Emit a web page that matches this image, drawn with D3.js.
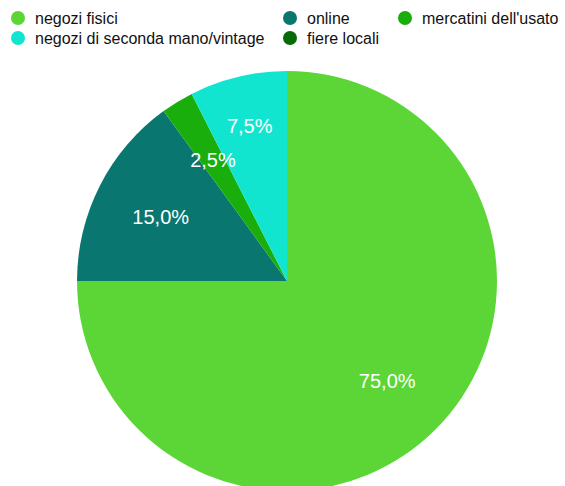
<!DOCTYPE html>
<html>
<head>
<meta charset="utf-8">
<script src="https://cdn.jsdelivr.net/npm/d3@7"></script>
<style>
  html, body { margin: 0; padding: 0; background: #fff; }
  svg { display: block; font-family: "Liberation Sans", Arial, Helvetica, sans-serif; }
</style>
</head>
<body>
<svg id="chart" width="565" height="486"></svg>
<script>
// Where purchases are made (share of answers)
const categories = ["negozi fisici", "online", "mercatini dell'usato", "negozi di seconda mano/vintage", "fiere locali"];
const values = [75.0, 15.0, 2.5, 7.5, 0.0];
const colors = ["#5cd636", "#0a7670", "#19ae0c", "#12e5cf", "#066b06"];

const svg = d3.select("#chart");
const cx = 287, cy = 281, R = 210;

const data = categories.map((c, i) => ({ cat: c, value: values[i], color: colors[i] }));

const pie = d3.pie().sort(null).value(d => d.value).startAngle(0).endAngle(2 * Math.PI);
const arcs = pie(data);
const arc = d3.arc().innerRadius(0).outerRadius(R);

const g = svg.append("g").attr("transform", `translate(${cx},${cy})`);
g.selectAll("path.slice")
  .data(arcs)
  .join("path")
  .attr("class", "slice")
  .attr("d", arc)
  .attr("fill", d => d.data.color);

// Percentage labels, placed along each slice's mid-angle; labels that
// would crowd the previous one are pushed outwards.
const fmt = v => d3.format(".1f")(v).replace(".", ",") + "%";
const placed = [];
arcs.filter(a => a.data.value > 0).forEach(a => {
  const mid = (a.startAngle + a.endAngle) / 2;
  let rr = R * 0.675;
  const pos = r => [Math.sin(mid) * r, -Math.cos(mid) * r];
  const clash = p => placed.some(q => Math.abs(q[0] - p[0]) < 52 && Math.abs(q[1] - p[1]) < 34);
  let p = pos(rr);
  while (clash(p) && rr < R * 0.9) { rr += 2; p = pos(rr); }
  placed.push(p);
  g.append("text")
    .attr("x", p[0])
    .attr("y", p[1])
    .attr("text-anchor", "middle")
    .attr("dominant-baseline", "central")
    .attr("fill", "#ffffff")
    .attr("font-size", 20)
    .text(fmt(a.data.value));
});

// Legend: three columns, wrapping onto a second row
const colX = [18, 290, 405];
const rowY = [18, 38];
const slots = [[0, 0], [1, 0], [2, 0], [0, 1], [1, 1]];
const leg = svg.append("g");
data.forEach((d, i) => {
  const [c, r] = slots[i];
  const x = colX[c], y = rowY[r];
  leg.append("circle").attr("cx", x).attr("cy", y).attr("r", 7).attr("fill", d.color);
  leg.append("text")
    .attr("x", x + 17)
    .attr("y", y)
    .attr("dominant-baseline", "central")
    .attr("font-size", 16)
    .attr("fill", "#111")
    .text(d.cat);
});
</script>
</body>
</html>
